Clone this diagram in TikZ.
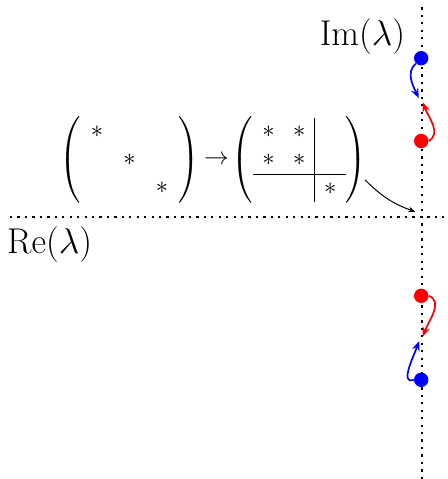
\RequirePackage{fix-cm}
\documentclass[tikz,border=0pt]{standalone}
\usepackage{amsmath}
\usetikzlibrary{arrows.meta,positioning,calc}
\newcommand{\matfont}{\fontsize{17.5}{20}\selectfont\setlength{\arraycolsep}{7.2pt}}
\tikzset{
  axis/.style={line width=1.6pt,dash pattern=on 1.6pt off 3.7pt},
  eig/.style={circle,inner sep=0pt,minimum size=0.36cm},
  bigl/.style={font=\fontsize{25.5}{30}\selectfont},
  mat/.style={font=\matfont,inner sep=0pt},
  mv/.style={-{Stealth[length=7pt,width=5.5pt]},line width=1.2pt}
}
\begin{document}
\begin{tikzpicture}
  \useasboundingbox (0,0) rectangle (11.2,11.975);
  % axes
  \coordinate (re0) at (0.25,6.55);
  \coordinate (re1) at (11.2,6.55);
  \coordinate (im0) at (10.55,0);
  \coordinate (im1) at (10.55,11.8);
  \draw[axis] (re0) -- (re1);
  \draw[axis] (im0) -- (im1);
  \node[bigl] (imlbl) at (9.06,11.07) {$\mathrm{Im}(\lambda)$};
  \node[bigl] (relbl) at (1.24,5.86) {$\mathrm{Re}(\lambda)$};

  % Eigenvalues moving on the imaginary axis
  \node[eig,fill=blue] (b1) at (10.53,10.52) {};
  \node[eig,fill=red] (r1) at (10.53,8.45) {};
  \node[eig,fill=red] (r2) at (10.53,4.58) {};
  \node[eig,fill=blue] (b2) at (10.53,2.48) {};
  \coordinate (b1e) at (10.47,9.52);
  \coordinate (r1e) at (10.57,9.42);
  \coordinate (r2e) at (10.57,3.56);
  \coordinate (b2e) at (10.48,3.45);
  \draw[mv,blue] (b1.south west) to[out=220,in=115] (b1e);
  \draw[mv,red] (r1.east) to[out=30,in=-70] (r1e);
  \draw[mv,red] (r2.east) to[out=-20,in=70] (r2e);
  \draw[mv,blue] (b2.west) to[out=200,in=-110] (b2e);

  % Matrices
  \node[mat] (m1) at (3.24,7.975) {$\left(\begin{array}{ccc} * & & \\ & * & \\ & & * \end{array}\right)$};
  \node[mat,right=0.1cm of m1] (to) {$\to$};
  \node[mat,right=0.06cm of to] (m2) {\setlength{\arraycolsep}{6.6pt}$\left(\begin{array}{cc|c} * & * & \\ * & * & \\ \hline & & * \end{array}\right)$};
  \coordinate (m2out) at ($(m2.east)+(-0.05,-0.5)$);
  \coordinate (orig) at (10.38,6.68);
  \draw[-{Stealth[length=5pt,width=4pt]},line width=0.7pt] (m2out) to[out=-45,in=160] (orig);
\end{tikzpicture}
\end{document}
